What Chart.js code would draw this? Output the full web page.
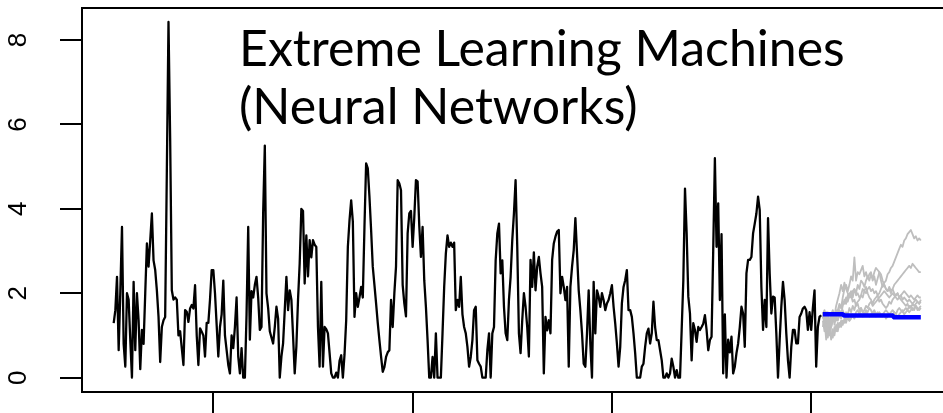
<!DOCTYPE html>
<html>
<head>
<meta charset="utf-8">
<script src="https://cdn.jsdelivr.net/npm/chart.js@4"></script>
<style>
  html, body { margin: 0; padding: 0; background: #fff; overflow: hidden; }
  #wrap { position: relative; width: 943px; height: 413px; overflow: hidden; }
  #c { position: absolute; left: 0; top: 0; }
  #note {
    position: absolute; left: 239px; top: 18px;
    font-family: Lato, "Open Sans", sans-serif; font-size: 50px; line-height: 58px;
    color: #000; white-space: nowrap;
  }
</style>
</head>
<body>
<div id="wrap">
  <canvas id="c" width="960" height="413"></canvas>
  <div id="note">Extreme Learning Machines<br>(Neural Networks)</div>
</div>
<script>
// Monthly series, first observation January 1985
const startYear = 1985;

const observed = [
  1.29, 1.6, 2.39, 0.65, 2.05, 3.57, 0.8, 0.26, 2.0, 1.85,
  0.89, 0.0, 2.27, 0.65, 2.0, 1.36, 0.2, 1.13, 0.8, 2.0,
  3.18, 2.63, 3.25, 3.89, 2.78, 2.55, 2.07, 1.44, 0.37, 1.2,
  1.36, 1.44, 4.88, 8.43, 5.67, 2.07, 1.85, 1.9, 1.85, 1.0,
  1.1, 0.7, 0.3, 1.6, 1.56, 1.32, 1.64, 1.72, 1.64, 2.19,
  1.0, 0.3, 1.17, 1.09, 1.0, 0.5, 1.3, 1.3, 1.85, 2.55,
  2.55, 2.0, 1.25, 0.5, 1.2, 1.5, 2.3, 1.0, 0.65, 0.3,
  0.1, 1.0, 0.7, 1.2, 1.9, 0.5, 0.1, 0.7, 0.0, 0.0,
  1.5, 3.57, 0.9, 2.05, 1.9, 2.2, 2.39, 1.9, 1.13, 1.2,
  3.89, 5.5, 2.0, 1.65, 1.1, 0.95, 0.81, 1.2, 1.68, 1.4,
  0.0, 0.5, 0.81, 1.6, 2.39, 1.6, 2.07, 1.85, 1.0, 0.1,
  0.74, 1.85, 2.71, 4.0, 3.95, 2.23, 3.37, 2.4, 3.26, 2.85,
  3.26, 3.15, 3.1, 1.2, 0.26, 2.27, 0.26, 1.2, 1.15, 1.05,
  0.58, 0.1, 0.0, 0.0, 0.12, 0.0, 0.4, 0.53, 0.0, 0.55,
  1.36, 3.1, 3.73, 4.2, 3.7, 1.44, 2.0, 1.68, 1.9, 2.15,
  1.9, 3.57, 5.08, 4.96, 4.29, 3.5, 2.63, 2.2, 1.76, 1.3,
  0.89, 0.5, 0.14, 0.25, 0.49, 0.6, 0.65, 1.84, 1.2, 2.0,
  2.63, 4.68, 4.6, 4.44, 2.2, 1.76, 1.45, 3.42, 3.89, 3.95,
  3.1, 3.8, 4.68, 4.65, 3.6, 2.86, 3.57, 2.31, 1.68, 0.89,
  0.0, 0.0, 0.49, 0.0, 1.05, 0.0, 0.0, 0.0, 1.05, 2.15,
  2.94, 3.37, 3.1, 3.2, 3.1, 3.2, 1.6, 1.84, 1.68, 2.39,
  1.5, 1.2, 1.05, 0.73, 0.26, 0.49, 0.89, 1.6, 1.68, 0.41,
  0.33, 0.26, 0.0, 0.0, 0.0, 0.65, 1.05, 0.0, 1.05, 1.2,
  2.78, 3.42, 3.65, 2.47, 2.78, 1.68, 1.05, 0.89, 1.84, 2.39,
  3.26, 3.89, 4.68, 3.1, 1.05, 0.58, 1.36, 2.0, 1.68, 1.2,
  0.5, 2.79, 2.15, 2.97, 2.07, 2.63, 2.86, 2.47, 2.15, 0.1,
  1.44, 1.12, 1.36, 1.05, 2.79, 3.18, 3.34, 3.46, 3.5, 2.0,
  2.39, 2.15, 1.84, 2.15, 0.26, 2.15, 2.63, 3.02, 3.78, 2.94,
  2.07, 1.6, 1.05, 0.33, 0.26, 1.05, 2.07, 0.81, 0.0, 2.27,
  1.05, 2.07, 1.92, 1.68, 2.0, 1.84, 1.6, 1.76, 1.84, 2.0,
  2.19, 1.68, 1.28, 0.81, 0.26, 0.73, 1.76, 2.15, 2.31, 2.55,
  1.6, 1.6, 1.44, 1.05, 0.58, 0.0, 0.0, 0.0, 0.26, 0.33,
  0.73, 1.05, 1.16, 0.81, 1.05, 1.8, 1.2, 0.89, 0.89, 0.65,
  0.41, 0.0, 0.0, 0.1, 0.0, 0.1, 0.45, 0.26, 0.0, 0.18,
  0.0, 0.0, 1.13, 2.31, 4.48, 3.42, 1.92, 1.52, 0.41, 1.29,
  1.13, 0.85, 1.2, 1.13, 1.2, 1.28, 1.48, 1.13, 0.65, 0.89,
  0.97, 3.02, 5.2, 3.1, 4.13, 1.84, 3.4, 0.1, 1.5, 0.0,
  0.9, 0.6, 0.97, 0.1, 0.26, 0.58, 0.81, 1.2, 1.68, 1.52,
  0.73, 2.47, 2.79, 2.79, 2.86, 3.42, 3.65, 3.89, 4.29, 3.97,
  2.15, 1.13, 1.84, 1.2, 3.78, 2.47, 1.52, 1.92, 1.9, 1.05,
  0.0, 0.89, 1.68, 2.27, 1.84, 1.05, 0.41, 0.0, 0.73, 1.13,
  1.13, 0.81, 0.81, 1.44, 1.52, 1.64, 1.68, 1.6, 1.13, 1.55,
  1.13, 1.65, 2.07, 0.26, 1.2, 1.44, 1.48
];

// 60-month forecast: point forecast and simulated sample paths
const forecastMean = [
  1.50, 1.50, 1.50, 1.50, 1.50, 1.50, 1.50, 1.50, 1.50, 1.50,
  1.50, 1.50, 1.50, 1.47, 1.47, 1.47, 1.47, 1.47, 1.47, 1.47,
  1.47, 1.47, 1.47, 1.47, 1.47, 1.47, 1.47, 1.47, 1.47, 1.47,
  1.47, 1.47, 1.47, 1.47, 1.47, 1.47, 1.47, 1.47, 1.47, 1.47,
  1.47, 1.47, 1.47, 1.43, 1.43, 1.43, 1.43, 1.43, 1.43, 1.43,
  1.43, 1.43, 1.43, 1.43, 1.43, 1.43, 1.43, 1.43, 1.43, 1.43
];

const simPathA = [
  1.5, 1.35, 1.55, 1.2, 1.4, 1.3, 1.5, 1.25, 1.45, 1.35,
  1.5, 1.4, 1.6, 1.45, 1.55, 1.5, 1.65, 1.55, 1.7, 1.6,
  1.75, 1.8, 1.85, 1.95, 1.9, 2.05, 2.0, 2.1, 2.15, 2.05,
  2.1, 2.0, 2.05, 1.95, 2.0, 2.1, 2.2, 2.25, 2.3, 2.45,
  2.5, 2.6, 2.65, 2.75, 2.85, 2.95, 3.05, 3.15, 3.1, 3.25,
  3.3, 3.4, 3.45, 3.5, 3.4, 3.3, 3.35, 3.25, 3.3, 3.25
];
const simPathB = [
  1.55, 1.4, 1.3, 1.45, 1.2, 1.35, 1.5, 1.4, 1.6, 1.5,
  1.7, 1.65, 1.8, 1.75, 1.9, 1.8, 1.95, 2.05, 1.9, 2.1,
  2.0, 2.2, 2.1, 2.3, 2.25, 2.15, 2.3, 2.4, 2.3, 2.45,
  2.35, 2.5, 2.6, 2.55, 2.5, 2.3, 2.15, 2.2, 2.1, 2.05,
  2.1, 2.0, 2.1, 2.2, 2.25, 2.3, 2.35, 2.4, 2.45, 2.5,
  2.55, 2.6, 2.65, 2.6, 2.7, 2.65, 2.6, 2.55, 2.5, 2.5
];
const simPathC = [
  1.45, 1.3, 1.1, 1.25, 1.0, 1.2, 1.35, 1.5, 1.4, 1.6,
  1.75, 1.65, 1.9, 2.1, 2.2, 2.05, 2.2, 2.4, 2.3, 2.85,
  2.3, 2.5, 2.45, 2.55, 2.65, 2.4, 2.5, 2.35, 2.45, 2.5,
  2.3, 2.4, 2.2, 2.35, 2.5, 2.45, 2.3, 2.2, 2.1, 2.05,
  2.15, 2.05, 2.1, 2.0, 1.95, 2.0, 1.9, 1.95, 1.85, 1.9,
  1.85, 1.8, 1.85, 1.8, 1.75, 1.8, 1.85, 1.8, 1.75, 1.85
];
const simPathD = [
  1.5, 1.6, 1.45, 1.55, 1.35, 1.2, 1.4, 1.5, 1.35, 1.55,
  1.6, 1.5, 1.7, 1.85, 1.75, 1.95, 2.0, 1.9, 2.05, 2.1,
  1.95, 2.0, 1.9, 1.95, 2.1, 2.05, 2.15, 2.0, 1.9, 1.85,
  1.75, 1.85, 1.9, 1.95, 1.8, 1.85, 1.75, 1.7, 1.65, 1.7,
  1.8, 1.75, 1.85, 1.9, 1.95, 2.0, 1.9, 1.85, 1.8, 1.75,
  1.7, 1.75, 1.65, 1.7, 1.6, 1.65, 1.7, 1.6, 1.65, 1.7
];
const simPathE = [
  1.35, 1.1, 1.3, 0.95, 1.2, 0.9, 1.15, 1.0, 1.25, 1.1,
  1.3, 1.2, 1.35, 1.3, 1.45, 1.4, 1.35, 1.5, 1.45, 1.4,
  1.5, 1.45, 1.55, 1.5, 1.45, 1.5, 1.55, 1.5, 1.45, 1.5,
  1.55, 1.6, 1.5, 1.55, 1.5, 1.45, 1.5, 1.55, 1.6, 1.55,
  1.5, 1.55, 1.6, 1.55, 1.5, 1.6, 1.65, 1.6, 1.55, 1.6,
  1.65, 1.6, 1.7, 1.65, 1.75, 1.7, 1.75, 1.8, 1.75, 1.8
];
const simPathF = [
  1.2, 1.4, 0.9, 1.15, 1.3, 1.05, 0.95, 1.2, 1.1, 1.3,
  1.2, 1.35, 1.25, 1.4, 1.3, 1.45, 1.35, 1.4, 1.5, 1.45,
  1.55, 1.6, 1.5, 1.65, 1.55, 1.5, 1.6, 1.55, 1.65, 1.6,
  1.5, 1.55, 1.45, 1.5, 1.55, 1.5, 1.45, 1.5, 1.4, 1.45,
  1.5, 1.45, 1.5, 1.55, 1.5, 1.45, 1.5, 1.55, 1.6, 1.5,
  1.55, 1.6, 1.55, 1.6, 1.65, 1.6, 1.7, 1.65, 1.6, 1.65
];
const simPathG = [
  1.4, 1.55, 1.25, 1.45, 1.3, 1.5, 1.6, 1.45, 1.7, 1.85,
  2.0, 2.2, 2.05, 2.25, 2.1, 2.0, 1.9, 1.95, 1.8, 1.85,
  1.7, 1.75, 1.6, 1.65, 1.55, 1.6, 1.7, 1.65, 1.75, 1.8,
  1.7, 1.75, 1.8, 1.85, 1.9, 1.95, 2.0, 2.05, 2.0, 1.95,
  1.9, 1.95, 2.0, 1.95, 1.9, 1.85, 1.9, 1.95, 2.0, 2.05,
  2.0, 1.95, 1.9, 1.95, 1.9, 1.85, 1.9, 1.95, 1.9, 1.9
];

const xTickYears = [1990, 2000, 2010, 2020];
const yTickValues = [0, 2, 4, 6, 8];
const xRange = [1983.41, 2027.18];
const yRange = [-0.34, 8.76];

// month index -> decimal year
function toPoints(values, firstIndex) {
  return values.map((v, i) => ({ x: startYear + (firstIndex + i) / 12, y: v }));
}

const horizonStart = observed.length;
const simPaths = [simPathA, simPathB, simPathC, simPathD, simPathE, simPathF, simPathG];

const datasets = [
  {
    label: 'forecast',
    data: toPoints(forecastMean, horizonStart),
    borderColor: '#0000ff', borderWidth: 4.5, order: 0
  },
  ...simPaths.map((p, j) => ({
    label: 'path ' + (j + 1),
    data: toPoints(p, horizonStart),
    borderColor: '#bebebe', borderWidth: 1.8, order: 1
  })),
  {
    label: 'observed',
    data: toPoints(observed, 0),
    borderColor: '#000000', borderWidth: 2.3, order: 2
  }
];

// plot frame drawn around the chart area
const framePlugin = {
  id: 'frame',
  afterDraw(chart) {
    const { ctx, chartArea: a } = chart;
    ctx.save();
    ctx.strokeStyle = '#000';
    ctx.lineWidth = 2;
    ctx.strokeRect(a.left, a.top, a.right - a.left, a.bottom - a.top);
    ctx.restore();
  }
};

new Chart(document.getElementById('c'), {
  type: 'line',
  data: { datasets },
  plugins: [framePlugin],
  options: {
    responsive: false,
    devicePixelRatio: 1,
    animation: false,
    events: [],
    layout: { padding: { left: 0, top: 8, right: 5.7, bottom: 0 } },
    elements: {
      point: { radius: 0 },
      line: { tension: 0, fill: false, borderJoinStyle: 'round', borderCapStyle: 'butt' }
    },
    plugins: { legend: { display: false }, tooltip: { enabled: false }, title: { display: false } },
    scales: {
      x: {
        type: 'linear',
        min: xRange[0], max: xRange[1],
        afterBuildTicks(s) { s.ticks = xTickYears.map(v => ({ value: v })); },
        afterFit(s) { s.height = 21; },
        ticks: { display: false },
        grid: { drawOnChartArea: false, drawTicks: true, tickLength: 22, color: '#000', lineWidth: 2 },
        border: { display: false }
      },
      y: {
        type: 'linear',
        min: yRange[0], max: yRange[1],
        afterBuildTicks(s) { s.ticks = yTickValues.map(v => ({ value: v })); },
        afterFit(s) { s.width = 82; s.paddingTop = 0; s.paddingBottom = 0; },
        ticks: {
          autoSkip: false,
          minRotation: 90, maxRotation: 90,
          crossAlign: 'center',
          padding: 34,
          color: '#000',
          font: { family: "'Liberation Sans', Arial, sans-serif", size: 26 }
        },
        grid: { drawOnChartArea: false, drawTicks: true, tickLength: 22, color: '#000', lineWidth: 2 },
        border: { display: false }
      }
    }
  }
});
</script>
</body>
</html>
